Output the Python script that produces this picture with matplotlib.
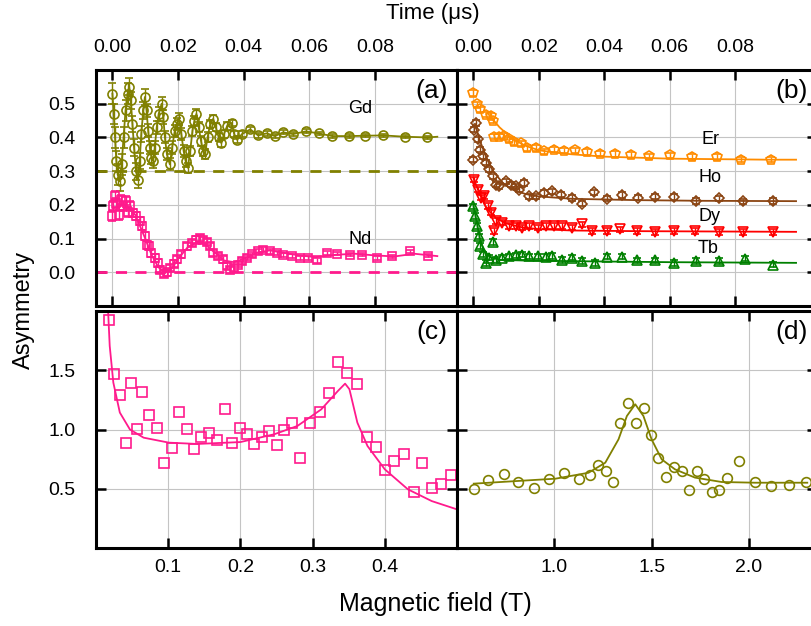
import matplotlib
matplotlib.use('Agg')
import matplotlib.pyplot as plt
import numpy as np

# ---- time spectra, panel (a) ----
gd_t = [0.0000, 0.0004, 0.0008, 0.0012, 0.0016, 0.0022, 0.0028, 0.0034, 0.0040, 0.0046,
        0.0051, 0.0056, 0.0061, 0.0066, 0.0072, 0.0078, 0.0083, 0.0088, 0.0094, 0.0099,
        0.0104, 0.0109, 0.0114, 0.0119, 0.0124, 0.0129, 0.0135, 0.0141, 0.0150, 0.0155,
        0.0160, 0.0166, 0.0175, 0.0182, 0.0190, 0.0196, 0.0203, 0.0210, 0.0217, 0.0223,
        0.0230, 0.0237, 0.0244, 0.0250, 0.0256, 0.0263, 0.0270, 0.0276, 0.0282, 0.0290,
        0.0298, 0.0307, 0.0315, 0.0324, 0.0332, 0.0340, 0.0350, 0.0363, 0.0371, 0.0380,
        0.0395, 0.0420, 0.0444, 0.0470, 0.0495, 0.0520, 0.0550, 0.0590, 0.0628, 0.0670,
        0.0720, 0.0770, 0.0826, 0.0892, 0.0960, 0.0990]
gd_a = [0.53, 0.47, 0.40, 0.33, 0.29, 0.27, 0.32, 0.40, 0.48, 0.53,
        0.55, 0.51, 0.44, 0.37, 0.30, 0.275, 0.33, 0.41, 0.48, 0.52,
        0.48, 0.42, 0.37, 0.34, 0.33, 0.37, 0.43, 0.47, 0.50, 0.46,
        0.40, 0.35, 0.32, 0.37, 0.42, 0.44, 0.455, 0.41, 0.36, 0.33,
        0.31, 0.36, 0.42, 0.45, 0.47, 0.43, 0.39, 0.36, 0.35, 0.40,
        0.44, 0.455, 0.43, 0.40, 0.383, 0.41, 0.435, 0.443, 0.41, 0.393,
        0.41, 0.424, 0.406, 0.412, 0.404, 0.415, 0.41, 0.418, 0.412, 0.404,
        0.404, 0.405, 0.406, 0.402, 0.40, 0.402]
gd_err = [0.03, 0.03, 0.03, 0.03, 0.03, 0.03, 0.03, 0.03, 0.03, 0.03,
          0.025, 0.025, 0.025, 0.025, 0.025, 0.025, 0.025, 0.025, 0.025, 0.025,
          0.02, 0.02, 0.02, 0.02, 0.02, 0.02, 0.02, 0.02, 0.02, 0.02,
          0.018, 0.018, 0.018, 0.018, 0.018, 0.018, 0.018, 0.018, 0.018, 0.018,
          0.015, 0.015, 0.015, 0.015, 0.015, 0.015, 0.015, 0.015, 0.015, 0.015,
          0.012, 0.012, 0.012, 0.012, 0.012, 0.012, 0.012, 0.01, 0.01, 0.01,
          0.008, 0.008, 0.007, 0.007, 0.006, 0.006, 0.006, 0.006, 0.005, 0.005,
          0.005, 0.005, 0.005, 0.005, 0.005, 0.0]

nd_t = [0.0000, 0.0002, 0.0007, 0.0012, 0.0020, 0.0027, 0.0033, 0.0041, 0.0048, 0.0055,
        0.0063, 0.0073, 0.0083, 0.0091, 0.0099, 0.0106, 0.0112, 0.0119, 0.0129, 0.0139,
        0.0146, 0.0157, 0.0167, 0.0177, 0.0187, 0.0197, 0.0210, 0.0226, 0.0241, 0.0256,
        0.0266, 0.0277, 0.0287, 0.0297, 0.0307, 0.0322, 0.0336, 0.0348, 0.0358, 0.0370,
        0.0383, 0.0396, 0.0409, 0.0424, 0.0444, 0.0460, 0.0480, 0.0500, 0.0520, 0.0546,
        0.0571, 0.0597, 0.0623, 0.0653, 0.0683, 0.0724, 0.0760, 0.0805, 0.0851, 0.0907,
        0.0963]
nd_a = [0.166, 0.196, 0.225, 0.205, 0.17, 0.215, 0.196, 0.21, 0.18, 0.196,
        0.176, 0.166, 0.151, 0.136, 0.107, 0.082, 0.077, 0.057, 0.043, 0.028,
        0.008, -0.004, 0.0, 0.013, 0.026, 0.038, 0.053, 0.077, 0.087, 0.097,
        0.103, 0.097, 0.089, 0.079, 0.057, 0.047, 0.038, 0.018, 0.008, 0.013,
        0.023, 0.033, 0.043, 0.053, 0.062, 0.067, 0.062, 0.057, 0.052, 0.047,
        0.042, 0.042, 0.035, 0.057, 0.055, 0.052, 0.052, 0.042, 0.047, 0.062,
        0.049]
nd_err = [0.015, 0.015, 0.015, 0.015, 0.015, 0.015, 0.015, 0.015, 0.015, 0.015,
          0.012, 0.012, 0.012, 0.012, 0.012, 0.012, 0.012, 0.012, 0.012, 0.012,
          0.01, 0.01, 0.01, 0.01, 0.01, 0.01, 0.01, 0.01, 0.01, 0.01,
          0.009, 0.009, 0.009, 0.009, 0.009, 0.009, 0.009, 0.009, 0.009, 0.009,
          0.008, 0.008, 0.008, 0.008, 0.007, 0.007, 0.007, 0.007, 0.006, 0.006,
          0.006, 0.006, 0.006, 0.005, 0.005, 0.005, 0.005, 0.005, 0.005, 0.005,
          0.005]
nd_fit_t = [0.0, 0.004, 0.007, 0.010, 0.012, 0.014, 0.016, 0.018, 0.020, 0.023,
            0.026, 0.028, 0.031, 0.034, 0.037, 0.040, 0.044, 0.048, 0.052, 0.057,
            0.062, 0.068, 0.074, 0.080, 0.086, 0.092, 0.099]
nd_fit_a = [0.19, 0.20, 0.17, 0.10, 0.05, 0.015, 0.0, 0.01, 0.04, 0.075,
            0.09, 0.085, 0.06, 0.035, 0.03, 0.04, 0.058, 0.065, 0.058, 0.05,
            0.045, 0.052, 0.055, 0.05, 0.047, 0.055, 0.048]

# ---- time spectra, panel (b) ----
er_t = [0.0000, 0.0010, 0.0021, 0.0039, 0.0054, 0.0059, 0.0064, 0.0079, 0.0094, 0.0110,
        0.0125, 0.0145, 0.0165, 0.0191, 0.0216, 0.0246, 0.0277, 0.0312, 0.0348, 0.0388,
        0.0434, 0.0482, 0.0538, 0.0601, 0.0667, 0.0743, 0.0819, 0.0910]
er_a = [0.532, 0.498, 0.483, 0.468, 0.463, 0.45, 0.402, 0.402, 0.404, 0.394,
        0.386, 0.382, 0.369, 0.369, 0.359, 0.364, 0.361, 0.362, 0.357, 0.352,
        0.351, 0.348, 0.344, 0.347, 0.342, 0.342, 0.334, 0.334]
er_fit_t = [0.0045, 0.008, 0.012, 0.016, 0.020, 0.025, 0.030, 0.040, 0.050, 0.060,
            0.070, 0.080, 0.090, 0.0986]
er_fit_a = [0.47, 0.43, 0.395, 0.375, 0.362, 0.355, 0.35, 0.343, 0.34, 0.337,
            0.336, 0.335, 0.334, 0.334]

ho_t = [0.0000, 0.0003, 0.0008, 0.0013, 0.0019, 0.0029, 0.0039, 0.0049, 0.0059, 0.0069,
        0.0079, 0.0099, 0.0115, 0.0130, 0.0140, 0.0155, 0.0170, 0.0191, 0.0216, 0.0241,
        0.0267, 0.0302, 0.0333, 0.0368, 0.0409, 0.0454, 0.0503, 0.0555, 0.0614, 0.0679,
        0.0751, 0.0824, 0.0915]
ho_a = [0.334, 0.423, 0.443, 0.394, 0.364, 0.344, 0.325, 0.305, 0.285, 0.26,
        0.255, 0.27, 0.26, 0.255, 0.245, 0.265, 0.225, 0.225, 0.235, 0.24,
        0.23, 0.22, 0.204, 0.237, 0.218, 0.229, 0.221, 0.224, 0.223, 0.212,
        0.219, 0.21, 0.212]
ho_fit_t = [0.0005, 0.002, 0.004, 0.006, 0.009, 0.012, 0.016, 0.020, 0.030, 0.050,
            0.070, 0.0986]
ho_fit_a = [0.44, 0.39, 0.34, 0.30, 0.265, 0.245, 0.232, 0.225, 0.218, 0.214,
            0.212, 0.211]

dy_t = [0.0003, 0.0013, 0.0024, 0.0034, 0.0044, 0.0054, 0.0064, 0.0069, 0.0089, 0.0110,
        0.0130, 0.0150, 0.0170, 0.0196, 0.0221, 0.0246, 0.0272, 0.0302, 0.0333, 0.0363,
        0.0409, 0.0449, 0.0500, 0.0555, 0.0613, 0.0677, 0.0751, 0.0824, 0.0915]
dy_a = [0.275, 0.245, 0.221, 0.226, 0.197, 0.177, 0.122, 0.152, 0.147, 0.137,
        0.137, 0.132, 0.137, 0.132, 0.137, 0.137, 0.137, 0.132, 0.142, 0.122,
        0.122, 0.127, 0.122, 0.12, 0.122, 0.122, 0.12, 0.12, 0.12]
dy_fit_t = [0.0, 0.002, 0.004, 0.007, 0.010, 0.015, 0.020, 0.030, 0.050, 0.0986]
dy_fit_a = [0.28, 0.23, 0.19, 0.16, 0.145, 0.133, 0.128, 0.124, 0.122, 0.12]

tb_t = [0.0000, 0.0006, 0.0010, 0.0016, 0.0021, 0.0029, 0.0039, 0.0049, 0.0059, 0.0069,
        0.0089, 0.0110, 0.0130, 0.0150, 0.0170, 0.0196, 0.0221, 0.0241, 0.0272, 0.0302,
        0.0333, 0.0373, 0.0409, 0.0454, 0.0500, 0.0555, 0.0614, 0.0679, 0.0751, 0.0829,
        0.0915]
tb_a = [0.196, 0.167, 0.137, 0.107, 0.078, 0.053, 0.028, 0.043, 0.09, 0.037,
        0.043, 0.047, 0.05, 0.052, 0.047, 0.047, 0.045, 0.048, 0.037, 0.043,
        0.033, 0.028, 0.046, 0.046, 0.035, 0.035, 0.028, 0.033, 0.033, 0.04,
        0.023]
tb_fit_t = [0.0, 0.001, 0.002, 0.003, 0.005, 0.008, 0.015, 0.030, 0.060, 0.0986]
tb_fit_a = [0.20, 0.15, 0.10, 0.07, 0.045, 0.037, 0.035, 0.033, 0.03, 0.028]

# ---- field scans ----
nd_b = [0.0175, 0.025, 0.033, 0.041, 0.049, 0.057, 0.064, 0.074, 0.084, 0.0944,
        0.1047, 0.115, 0.1256, 0.136, 0.146, 0.157, 0.167, 0.178, 0.188, 0.199,
        0.209, 0.219, 0.23, 0.24, 0.251, 0.261, 0.272, 0.283, 0.296, 0.31,
        0.323, 0.335, 0.348, 0.361, 0.375, 0.3875, 0.40, 0.413, 0.426, 0.44,
        0.452, 0.465, 0.478, 0.492]
nd_asym = [1.92, 1.466, 1.291, 0.889, 1.39, 1.008, 1.317, 1.126, 1.016, 0.72,
           0.847, 1.151, 1.002, 0.839, 0.937, 0.974, 0.911, 1.171, 0.889, 1.01,
           0.965, 0.881, 0.937, 0.987, 0.867, 0.993, 1.052, 0.763, 1.052, 1.148,
           1.312, 1.573, 1.48, 1.384, 0.94, 0.85, 0.655, 0.731, 0.796, 0.475,
           0.72, 0.509, 0.543, 0.613]
nd_b_fit = [0.0166, 0.019, 0.024, 0.033, 0.047, 0.066, 0.101, 0.14, 0.20, 0.247,
            0.279, 0.312, 0.335, 0.345, 0.351, 0.362, 0.376, 0.40, 0.432, 0.465, 0.50]
nd_asym_fit = [2.02, 1.705, 1.396, 1.143, 1.0, 0.931, 0.889, 0.878, 0.894, 0.96,
               1.03, 1.17, 1.325, 1.387, 1.34, 1.058, 0.861, 0.664, 0.495, 0.396, 0.326]

gd_b = [0.586, 0.66, 0.74, 0.814, 0.894, 0.974, 1.048, 1.125, 1.185, 1.224,
        1.265, 1.304, 1.34, 1.38, 1.419, 1.46, 1.499, 1.535, 1.574, 1.614,
        1.655, 1.694, 1.732, 1.771, 1.809, 1.848, 1.887, 1.947, 2.031, 2.116,
        2.204, 2.292]
gd_asym = [0.495, 0.573, 0.622, 0.557, 0.509, 0.579, 0.63, 0.579, 0.613, 0.70,
           0.649, 0.557, 1.052, 1.221, 1.058, 1.179, 0.954, 0.76, 0.599, 0.683,
           0.649, 0.489, 0.647, 0.585, 0.475, 0.489, 0.594, 0.734, 0.56, 0.523,
           0.529, 0.557]
gd_b_fit = [0.586, 1.006, 1.176, 1.262, 1.33, 1.373, 1.416, 1.458, 1.50, 1.552,
            1.62, 1.723, 1.86, 2.031, 2.30]
gd_asym_fit = [0.543, 0.585, 0.635, 0.72, 0.917, 1.114, 1.213, 1.114, 0.917, 0.748,
               0.664, 0.594, 0.557, 0.551, 0.551]

OLIVE = '#808000'
PINK = '#ff1a8c'
ORANGE = '#ff8c00'
BROWN = '#8b4513'
RED = '#ff0000'
GREEN = '#008000'

plt.rcParams['font.family'] = ['Liberation Sans', 'DejaVu Sans']
plt.rcParams['font.size'] = 14

fig = plt.figure(figsize=(8.12, 6.26), dpi=100)
W, H = 812.0, 626.0

def box(left, top, right, bottom):
    return [left / W, 1 - bottom / H, (right - left) / W, (bottom - top) / H]

ax_a = fig.add_axes(box(96, 70, 457, 306))
ax_b = fig.add_axes(box(457, 70, 817, 306))
ax_c = fig.add_axes(box(96, 311, 457, 548))
ax_d = fig.add_axes(box(457, 311, 817, 548))

def style(ax):
    for s in ax.spines.values():
        s.set_linewidth(2.2)
    ax.grid(True, color='#c4c4c4', linewidth=0.8)
    ax.set_axisbelow(True)
    ax.tick_params(direction='in', length=7, width=1.8, top=True, right=True,
                   labelsize=14)
    ax.tick_params(axis='y', pad=15)

for ax in (ax_a, ax_b):
    style(ax)
    ax.set_xlim(-0.005, 0.105)
    ax.set_ylim(-0.1, 0.6)
    ax.set_xticks([0.0, 0.02, 0.04, 0.06, 0.08])
    ax.set_yticks([0.0, 0.1, 0.2, 0.3, 0.4, 0.5])
    ax.xaxis.set_major_formatter(matplotlib.ticker.FormatStrFormatter('%.2f'))
    ax.yaxis.set_major_formatter(matplotlib.ticker.FormatStrFormatter('%.1f'))
    ax.tick_params(axis='x', labeltop=True, labelbottom=False, pad=10)
ax_b.tick_params(labelleft=False)

for ax in (ax_c, ax_d):
    style(ax)
    ax.set_ylim(0, 2.0)
    ax.set_yticks([0.5, 1.0, 1.5])
    ax.yaxis.set_major_formatter(matplotlib.ticker.FormatStrFormatter('%.1f'))
    ax.tick_params(axis='x', pad=8)
ax_c.set_xlim(0, 0.5)
ax_c.set_xticks([0.1, 0.2, 0.3, 0.4])
ax_d.set_xlim(0.5, 2.35)
ax_d.set_xticks([1.0, 1.5, 2.0])
ax_d.xaxis.set_major_formatter(matplotlib.ticker.FormatStrFormatter('%.1f'))
ax_d.tick_params(labelleft=False)

ebkw = dict(elinewidth=1.0, capsize=3, capthick=1.0, markersize=6.5,
            markerfacecolor='none', markeredgewidth=1.2, linestyle='none')

# (a) Gd and Nd
ax_a.axhline(0.3, color=OLIVE, linestyle=(0, (4, 3)), linewidth=2)
ax_a.axhline(0.0, color=PINK, linestyle=(0, (4, 3)), linewidth=2)
ax_a.plot(gd_t, gd_a, color=OLIVE, linewidth=1.3)
ax_a.errorbar(gd_t[:-1], gd_a[:-1], yerr=gd_err[:-1], marker='o', color=OLIVE, **ebkw)
ax_a.plot(nd_fit_t, nd_fit_a, color=PINK, linewidth=1.3)
ax_a.errorbar(nd_t, nd_a, yerr=nd_err, marker='s', color=PINK,
              **{**ebkw, 'markersize': 6})
ax_a.text(0.0755, 0.485, 'Gd', ha='center', va='center', fontsize=13)
ax_a.text(0.0755, 0.097, 'Nd', ha='center', va='center', fontsize=13)

# (b) Er, Ho, Dy, Tb
for t, a, ft, fa, col, mk in [
        (er_t, er_a, er_fit_t, er_fit_a, ORANGE, 'p'),
        (ho_t, ho_a, ho_fit_t, ho_fit_a, BROWN, 'D'),
        (dy_t, dy_a, dy_fit_t, dy_fit_a, RED, 'v'),
        (tb_t, tb_a, tb_fit_t, tb_fit_a, GREEN, '^')]:
    ax_b.plot(ft, fa, color=col, linewidth=1.3)
    ms = 5.5 if mk == 'D' else 7
    ax_b.errorbar(t, a, yerr=[0.008] * len(t), marker=mk, color=col,
                  **{**ebkw, 'markersize': ms})
ax_b.text(0.0724, 0.395, 'Er', ha='center', va='center', fontsize=13)
ax_b.text(0.0724, 0.282, 'Ho', ha='center', va='center', fontsize=13)
ax_b.text(0.0720, 0.164, 'Dy', ha='center', va='center', fontsize=13)
ax_b.text(0.0717, 0.070, 'Tb', ha='center', va='center', fontsize=13)

# (c) Nd field scan
ax_c.plot(nd_b_fit, nd_asym_fit, color=PINK, linewidth=1.3)
ax_c.plot(nd_b, nd_asym, 's', color=PINK, markerfacecolor='none',
          markersize=6.5, markeredgewidth=1.2)

# (d) Gd field scan
ax_d.plot(gd_b_fit, gd_asym_fit, color=OLIVE, linewidth=1.3)
ax_d.plot(gd_b, gd_asym, 'o', color=OLIVE, markerfacecolor='none',
          markersize=7, markeredgewidth=1.2)

for ax, lab in [(ax_a, '(a)'), (ax_b, '(b)'), (ax_c, '(c)'), (ax_d, '(d)')]:
    ax.text(0.93, 0.91, lab, transform=ax.transAxes, ha='center', va='center',
            fontsize=19)

fig.text(433 / W, 1 - 14 / H, 'Time (\u03bcs)', ha='center', va='center', fontsize=16)
fig.text(435 / W, 1 - 604 / H, 'Magnetic field (T)', ha='center', va='center', fontsize=18)
fig.text(24 / W, 1 - 310 / H, 'Asymmetry', ha='center', va='center',
         rotation=90, fontsize=17)

fig.savefig('out.png', dpi=100)
